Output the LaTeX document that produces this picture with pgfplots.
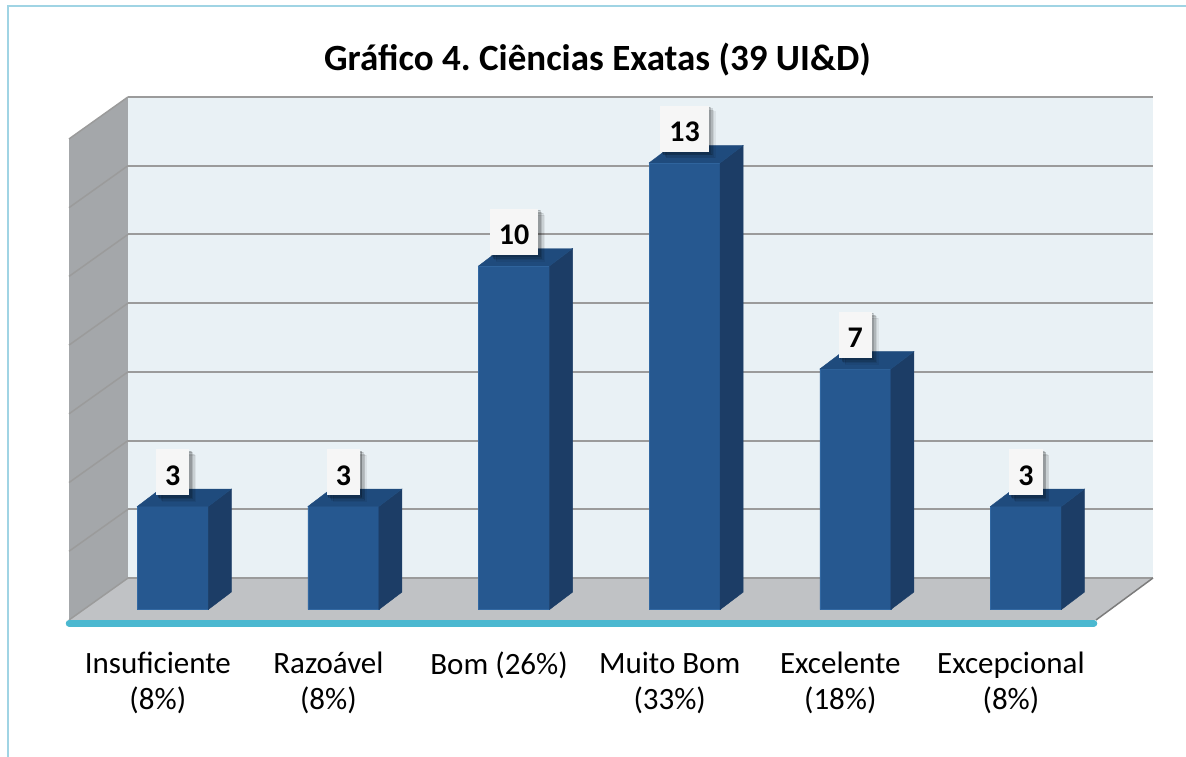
\documentclass[border=0pt]{standalone}
\usepackage{fontspec}
\setmainfont{Carlito}
\usepackage{pgfplots}
\pgfplotsset{compat=1.18}
\usetikzlibrary{shadows}
\definecolor{framecol}{RGB}{160,212,228}
\definecolor{wallback}{RGB}{233,241,245}
\definecolor{wallleft}{RGB}{164,167,170}
\definecolor{floorcol}{RGB}{192,194,197}
\definecolor{gridcol}{RGB}{155,155,155}
\definecolor{cyanline}{RGB}{75,184,208}
\definecolor{barfront}{RGB}{38,88,144}
\definecolor{barside}{RGB}{28,61,102}
\definecolor{bartop}{RGB}{31,75,125}
\definecolor{baredge}{RGB}{50,104,162}
\definecolor{boxcol}{RGB}{246,246,246}
\frenchspacing
% side and top faces of a 3D bar, height taken from the data value \ry
\pgfdeclareplotmark{bartd}{%
  \pgfmathsetmacro\hh{\ry*34.36}%
  \fill[barside] (35.5pt,0pt) -- (58.5pt,17.4pt) -- (58.5pt,{17.4pt-\hh pt}) -- (35.5pt,{-\hh pt}) -- cycle;
  \fill[bartop] (-35.5pt,0pt) -- (35.5pt,0pt) -- (58.5pt,17.4pt) -- (-12.5pt,17.4pt) -- cycle;
}
\begin{document}
\begin{tikzpicture}[x=1pt,y=1pt]
\useasboundingbox (0,0) rectangle (1186,756);
\draw[framecol, line width=2pt] (7.7,-20) -- (7.7,750.3) -- (1200,750.3);
% walls and floor
\fill[wallleft] (69,136) -- (128,178) -- (128,659) -- (69,617) -- cycle;
\fill[wallback] (128,178) rectangle (1153,659);
\fill[floorcol] (69,136) -- (1096,136) -- (1153,178) -- (128,178) -- cycle;
\foreach \k in {0,...,7}{
  \draw[gridcol, line width=2pt] (128,178+68.72*\k) -- (1153,178+68.72*\k);
  \draw[gridcol, line width=1.5pt] (69,136+68.72*\k) -- (128,178+68.72*\k);
}
\draw[gridcol!80!black, line width=1.5pt] (1096,136) -- (1153,178);
\draw[cyanline, line width=6.5pt, line cap=round] (69,132.7) -- (1094,132.7);
\node[anchor=base, font=\fontsize{37}{40}\selectfont\bfseries] at (597.5,685) {Gráfico 4. Ciências Exatas (39 UI\&D)};
\begin{axis}[
  at={(83.75pt,146.5pt)}, anchor=south west, scale only axis,
  width=1027pt, height=481pt,
  xmin=-0.522, xmax=5.497, ymin=0, ymax=14,
  clip=false, axis line style={draw=none}, tick style={draw=none},
  major tick length=0pt,
  ytick=\empty, xtick={0,1,2,3,4,5},
  xticklabels={{Insuficiente\\(8\%)},{Razoável\\(8\%)},{Bom (26\%)},{Muito Bom\\(33\%)},{Excelente\\(18\%)},{Excepcional\\(8\%)}},
  xticklabel style={font=\fontsize{31}{36}\selectfont, align=center, anchor=north, xshift=-15pt, yshift=-39pt},
  /pgf/number format/assume math mode=true,
]
\addplot[scatter, only marks, mark=bartd,
  scatter/@pre marker code/.code={}, scatter/@post marker code/.code={},
  visualization depends on={rawy \as \ry},
  nodes near coords,
  every node near coord/.append style={anchor=south, yshift=11pt,
    font=\fontsize{30}{30}\selectfont\bfseries, text=black, fill=boxcol,
    inner xsep=9pt, inner ysep=10pt, text height=26pt, text depth=0pt,
    drop shadow={shadow xshift=6pt, shadow yshift=-6pt, fill=black, opacity=0.06},
    drop shadow={shadow xshift=4.5pt, shadow yshift=-4.5pt, fill=black, opacity=0.08},
    drop shadow={shadow xshift=3pt, shadow yshift=-3pt, fill=black, opacity=0.12},
    drop shadow={shadow xshift=1.5pt, shadow yshift=-1.5pt, fill=black, opacity=0.15}}]
coordinates {(0,3) (1,3) (2,10) (3,13) (4,7) (5,3)};
\addplot[ybar, bar width=71pt, bar shift=0pt, fill=barfront, draw=baredge, line width=0.6pt]
coordinates {(0,3) (1,3) (2,10) (3,13) (4,7) (5,3)};
\end{axis}
\end{tikzpicture}
\end{document}
